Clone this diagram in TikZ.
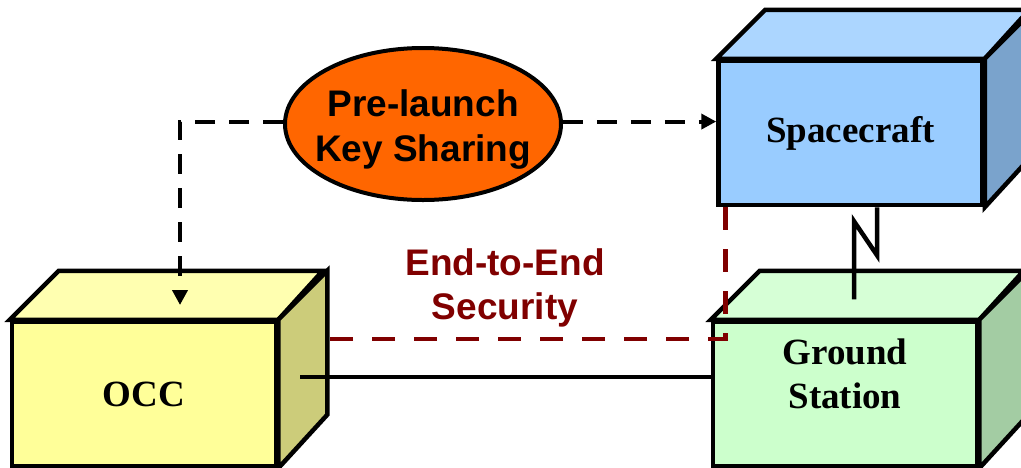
\documentclass[tikz,border=0pt]{standalone}
\usepackage{fontspec}
\setmainfont{Liberation Serif}
\newfontfamily\labelsans{Liberation Sans}
\usetikzlibrary{arrows.meta,calc,shapes.geometric}

\definecolor{occfront}{RGB}{255,255,153}
\definecolor{occtop}{RGB}{255,255,176}
\definecolor{occside}{RGB}{204,204,122}
\definecolor{scfront}{RGB}{153,204,255}
\definecolor{sctop}{RGB}{172,214,255}
\definecolor{scside}{RGB}{122,163,204}
\definecolor{gsfront}{RGB}{204,255,204}
\definecolor{gstop}{RGB}{214,255,214}
\definecolor{gsside}{RGB}{163,204,163}
\definecolor{keyorange}{RGB}{255,102,0}
\definecolor{e2ered}{RGB}{128,0,0}

\begin{document}
\begin{tikzpicture}[x=1pt,y=-1pt,
  box/.style={draw,line width=4.5pt,minimum width=264pt,minimum height=144pt,
    align=center,font=\fontsize{37}{44}\selectfont\bfseries},
  face/.style={draw,line width=4.5pt},
  link/.style={line width=4.5pt},
  keylink/.style={line width=4pt,dash pattern=on 20pt off 14pt,-{Triangle[length=15pt,width=15pt]}},
  e2e/.style={line width=4.5pt,e2ered,dash pattern=on 23pt off 19pt}]
  \useasboundingbox (0,0) rectangle (1021,467);

  % boxes
  \node[box,fill=occfront] (occ) at (144,394) {OCC};
  \node[box,fill=scfront] (sc) at (850.5,133) {Spacecraft};
  \node[box,fill=gsfront,text depth=40pt] (gs) at (845,394) {Ground\\Station};
  \foreach \b in {occ,sc,gs} {
    \filldraw[face,fill=\b top] (\b.north west) -- ++(49,-49) -- ++(264,0) -- (\b.north east) -- cycle;
    \filldraw[face,fill=\b side] (\b.north east) -- ++(49,-49) -- ++(0,144) -- (\b.south east) -- cycle;
  }

  % key sharing
  \node[ellipse,draw,line width=4pt,fill=keyorange,minimum width=276pt,minimum height=152pt,
    inner xsep=-20pt,inner ysep=0pt,text height=83pt,
    align=center,font=\labelsans\fontsize{37}{45}\selectfont\bfseries] (key) at (423,124) {Pre-launch\\Key Sharing};
  \node[align=center,text=e2ered,font=\labelsans\fontsize{37}{44}\selectfont\bfseries] (sec) at (505,288) {End-to-End\\Security};

  % links
  \coordinate (occin) at (180,305);
  \coordinate (occlink) at (300,377);
  \coordinate (occport) at (318,339);
  \draw[keylink] (key.179) -| (occin);
  \draw[keylink] (key.1) -- (key.1 -| sc.west);
  \draw[link] (occlink) -- (occlink -| gs.west);
  \draw[link] ($(sc.south)+(26.5,0)$) -- ++(0,48) -- ++(-23,-34) -- ++(0,78);
  \draw[e2e] ($(sc.south west)+(9,0)$) |- (occport);
\end{tikzpicture}
\end{document}
